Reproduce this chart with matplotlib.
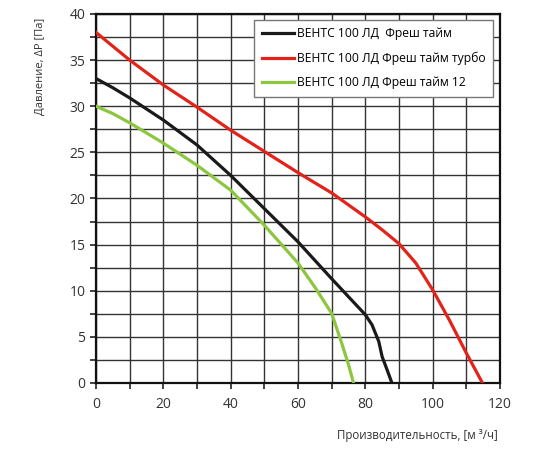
import matplotlib
matplotlib.use("Agg")
import matplotlib.pyplot as plt
from matplotlib.ticker import MultipleLocator

plt.rcParams['font.family'] = ['Open Sans', 'DejaVu Sans']

# curves
names = ["ВЕНТС 100 ЛД  Фреш тайм",
         "ВЕНТС 100 ЛД Фреш тайм турбо",
         "ВЕНТС 100 ЛД Фреш тайм 12"]
colors = ["#1a1a1a", "#e2231a", "#8dc63f"]

black_x = [0, 5, 10, 20, 30, 40, 50, 60, 70, 75, 80, 82, 84, 85, 86.5, 87.9]
black_y = [33, 32.0, 30.9, 28.5, 25.8, 22.5, 18.9, 15.3, 11.3, 9.35, 7.4,
           6.3, 4.5, 2.85, 1.4, 0]

red_x = [0, 10, 20, 30, 40, 50, 60, 70, 80, 85, 90, 95, 100, 105, 110, 114.8]
red_y = [38, 35.0, 32.3, 29.9, 27.4, 25.1, 22.8, 20.6, 18.0, 16.6, 15.1,
         13.0, 10.1, 6.8, 3.25, 0]

green_x = [0, 5, 10, 20, 30, 40, 50, 60, 65, 70, 73, 75, 76.5]
green_y = [30, 29.2, 28.2, 26.0, 23.6, 20.9, 17.1, 13.0, 10.4, 7.55, 4.3,
           2.0, 0]

fig = plt.figure(figsize=(5.5, 4.5), dpi=100)
ax = fig.add_axes([0.1745, 0.149, 0.7345, 0.82])

ax.plot(black_x, black_y, color=colors[0], lw=2.3, label=names[0], zorder=3)
ax.plot(red_x, red_y, color=colors[1], lw=2.3, label=names[1], zorder=3)
ax.plot(green_x, green_y, color=colors[2], lw=2.3, label=names[2], zorder=3)

ax.set_xlim(0, 120)
ax.set_ylim(0, 40)
ax.xaxis.set_major_locator(MultipleLocator(20))
ax.xaxis.set_minor_locator(MultipleLocator(10))
ax.yaxis.set_major_locator(MultipleLocator(5))
ax.yaxis.set_minor_locator(MultipleLocator(2.5))
ax.grid(which='both', color='#333333', lw=1.0)
ax.set_axisbelow(True)
ax.tick_params(which='both', direction='out', length=4, width=1.2,
               color='#222222', labelsize=10, labelcolor='#333333')
ax.tick_params(axis='x', pad=6)
for s in ax.spines.values():
    s.set_linewidth(1.6)
    s.set_color('#111111')

ax.set_ylabel("Давление, ΔP [Па]", loc='top', fontsize=8, color='#333333')
ax.yaxis.set_label_coords(-0.125, 0.99)
ax.set_xlabel("Производительность, [м ³/ч]", loc='right', fontsize=8.3,
              color='#333333')
ax.xaxis.set_label_coords(0.995, -0.125)

leg = ax.legend(loc='upper right', bbox_to_anchor=(0.983, 0.984), fontsize=8.7,
                frameon=True, fancybox=False, edgecolor='#777777',
                framealpha=1, handlelength=2.7, handletextpad=0.25,
                labelspacing=0.95, borderpad=0.6, borderaxespad=0)
leg.get_frame().set_linewidth(1.0)
leg.set_zorder(5)

fig.savefig("out.png", dpi=100)
